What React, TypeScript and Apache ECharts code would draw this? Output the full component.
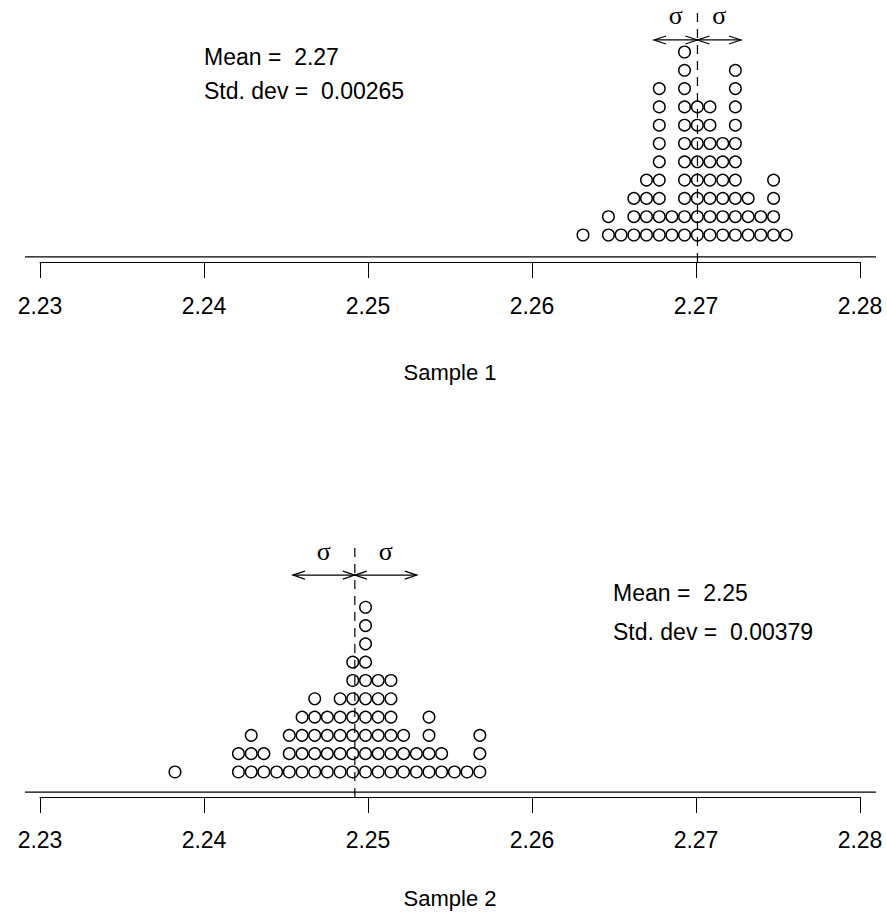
import React, { useEffect, useRef } from "react";
import * as echarts from "echarts";

// ---- data ----
const sample1Values = [2.26311, 2.26466, 2.26543, 2.26621, 2.26698, 2.26776, 2.26853, 2.2693, 2.27008, 2.27085, 2.27163, 2.2724, 2.27318, 2.27395, 2.27473, 2.2755];
const sample1Counts = [1, 2, 1, 3, 4, 9, 2, 11, 8, 8, 6, 10, 3, 2, 4, 1];

const sample2Values = [2.23823, 2.2421, 2.24288, 2.24365, 2.24443, 2.2452, 2.24598, 2.24675, 2.24752, 2.2483, 2.24907, 2.24985, 2.25062, 2.2514, 2.25217, 2.25295, 2.25372, 2.25449, 2.25527, 2.25604, 2.25682];
const sample2Counts = [1, 2, 3, 2, 1, 3, 4, 5, 4, 5, 7, 10, 6, 6, 3, 2, 4, 2, 1, 1, 3];

const axisMin = 2.23;
const axisMax = 2.28;
const axisStep = 0.01;
const sampleNames = ["Sample 1", "Sample 2"];
const meanLabels = ["Mean =  2.27", "Mean =  2.25"];
const sdLabels = ["Std. dev =  0.00265", "Std. dev =  0.00379"];

// ---- helpers ----
function stackPoints(values: number[], counts: number[]) {
  const pts: number[][] = [];
  values.forEach((v, i) => {
    for (let r = 1; r <= counts[i]; r++) pts.push([v, r]);
  });
  return pts;
}
function stats(values: number[], counts: number[]) {
  let n = 0, s = 0;
  values.forEach((v, i) => { n += counts[i]; s += v * counts[i]; });
  const mean = s / n;
  let ss = 0;
  values.forEach((v, i) => { ss += counts[i] * (v - mean) * (v - mean); });
  return { mean, sd: Math.sqrt(ss / (n - 1)) };
}

const FONT = '"Liberation Sans", Arial, Helvetica, sans-serif';
const SERIF = '"Liberation Serif", "Times New Roman", serif';

export default function App() {
  const ref = useRef<HTMLDivElement>(null);

  useEffect(() => {
    document.body.style.margin = "0";
    document.body.style.overflow = "hidden";
    if (!ref.current) return;
    const chart = echarts.init(ref.current, undefined, { renderer: "svg" });

    const samples = [
      { values: sample1Values, counts: sample1Counts },
      { values: sample2Values, counts: sample2Counts },
    ];
    const yMins = [-0.2, -0.1];
    const yMaxs = [13, 12];
    const grids = [
      { left: 40, right: 27, top: 15.4, height: 241.56 },
      { left: 40, right: 27, top: 570.67, height: 221.43 },
    ];
    const textPos = [
      { x: 204, y1: 57, y2: 91 },
      { x: 613, y1: 593, y2: 632 },
    ];

    const xAxes = samples.map((_, i) => ({
      type: "value",
      gridIndex: i,
      min: axisMin,
      max: axisMax,
      interval: axisStep,
      position: "bottom",
      offset: 5,
      axisLine: { show: true, onZero: false, lineStyle: { color: "#000", width: 1 } },
      axisTick: { show: true, inside: false, length: 16, lineStyle: { color: "#000", width: 1 } },
      axisLabel: {
        show: true,
        margin: i === 0 ? 33 : 31,
        color: "#000",
        fontSize: 23,
        fontFamily: FONT,
        formatter: (v: number) => v.toFixed(2),
        showMinLabel: true,
        showMaxLabel: true,
      },
      splitLine: { show: false },
      name: sampleNames[i],
      nameLocation: "middle",
      nameGap: i === 0 ? 100 : 90,
      nameTextStyle: { color: "#000", fontSize: 22, fontFamily: FONT },
    }));

    const yAxes = samples.map((_, i) => ({
      type: "value",
      gridIndex: i,
      min: yMins[i],
      max: yMaxs[i],
      show: false,
    }));

    const series: any[] = [];
    const graphics: any[] = [];
    samples.forEach((smp, i) => {
      const st = stats(smp.values, smp.counts);
      series.push({
        type: "scatter",
        xAxisIndex: i,
        yAxisIndex: i,
        symbol: "circle",
        symbolSize: 11.6,
        itemStyle: { color: "rgba(0,0,0,0)", borderColor: "#000", borderWidth: 1.4, opacity: 1 },
        data: stackPoints(smp.values, smp.counts),
        silent: true,
        z: 3,
      });
      series.push({
        type: "custom",
        xAxisIndex: i,
        yAxisIndex: i,
        clip: false,
        silent: true,
        z: 2,
        data: [[st.mean, st.sd]],
        renderItem: (_p: any, api: any) => {
          const m = api.value(0);
          const s = api.value(1);
          const base = api.coord([m, yMins[i]]);
          const x = base[0];
          const y0 = base[1];
          const xl = api.coord([m - s, yMins[i]])[0];
          const xr = api.coord([m + s, yMins[i]])[0];
          const ay = y0 - 217;
          const sy = y0 - 241;
          const hl = 12, hw = 4;
          const ls = { stroke: "#000", lineWidth: 1.2, fill: "none" };
          return {
            type: "group",
            children: [
              { type: "line", shape: { x1: x, y1: y0 + 5, x2: x, y2: y0 - 247 }, style: { stroke: "#000", lineWidth: 1.2, lineDash: [9, 7] } },
              { type: "line", shape: { x1: xl, y1: ay, x2: xr, y2: ay }, style: ls },
              { type: "polyline", shape: { points: [[xl + hl, ay - hw], [xl, ay], [xl + hl, ay + hw]] }, style: ls },
              { type: "polyline", shape: { points: [[x - hl, ay - hw], [x, ay], [x - hl, ay + hw]] }, style: ls },
              { type: "polyline", shape: { points: [[x + hl, ay - hw], [x, ay], [x + hl, ay + hw]] }, style: ls },
              { type: "polyline", shape: { points: [[xr - hl, ay - hw], [xr, ay], [xr - hl, ay + hw]] }, style: ls },
              { type: "text", style: { text: "σ", x: (xl + x) / 2, y: sy, align: "center", verticalAlign: "middle", font: `26px ${SERIF}`, fill: "#000" } },
              { type: "text", style: { text: "σ", x: (x + xr) / 2, y: sy, align: "center", verticalAlign: "middle", font: `26px ${SERIF}`, fill: "#000" } },
            ],
          };
        },
      });
      const gb = grids[i].top + grids[i].height;
      graphics.push({ type: "line", shape: { x1: 25, y1: gb, x2: 876, y2: gb }, style: { stroke: "#000", lineWidth: 1.2 }, silent: true });
      graphics.push({ type: "text", x: textPos[i].x, y: textPos[i].y1, style: { text: meanLabels[i], font: `23px ${FONT}`, fill: "#000", verticalAlign: "middle", align: "left" } });
      graphics.push({ type: "text", x: textPos[i].x, y: textPos[i].y2, style: { text: sdLabels[i], font: `23px ${FONT}`, fill: "#000", verticalAlign: "middle", align: "left" } });
    });

    chart.setOption({
      animation: false,
      backgroundColor: "#fff",
      grid: grids,
      xAxis: xAxes,
      yAxis: yAxes,
      series,
      graphic: graphics,
    });
    return () => chart.dispose();
  }, []);

  return <div ref={ref} style={{ width: 887, height: 924 }} />;
}
